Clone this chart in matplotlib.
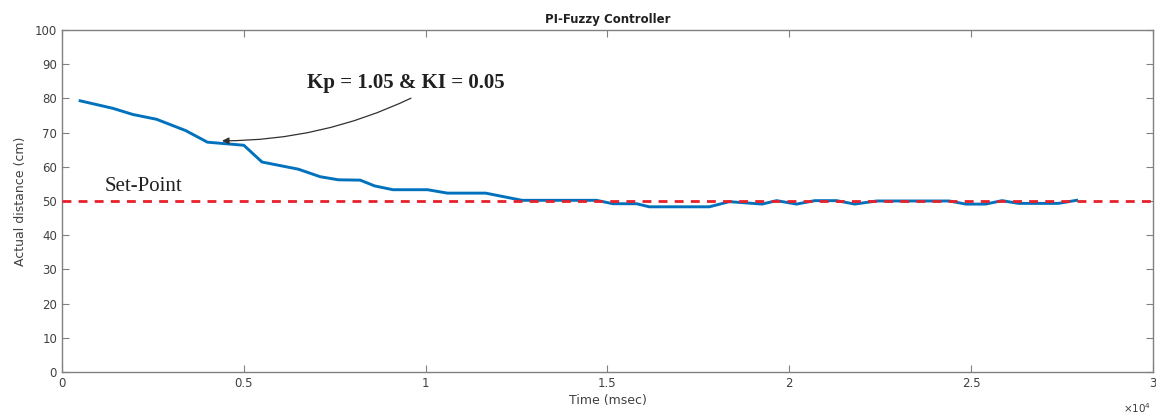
import matplotlib

matplotlib.use("Agg")
import matplotlib.pyplot as plt
from matplotlib.ticker import FuncFormatter

# response of the PI-Fuzzy controller
time_ms = [500, 1400, 1950, 2600, 3400, 4000, 5000, 5500, 6500, 7100, 7600, 8200,
           8600, 9100, 10050, 10600, 11650, 12650, 14700, 15150, 15800, 16150,
           17800, 18350, 19250, 19650, 20200, 20700, 21300, 21800, 22400, 24400,
           24850, 25400, 25850, 26300, 27400, 27900]
distance_cm = [79.3, 77.1, 75.3, 73.9, 70.6, 67.2, 66.3, 61.4, 59.3, 57.1, 56.2, 56.1,
               54.4, 53.3, 53.3, 52.3, 52.3, 50.2, 50.2, 49.2, 49.2, 48.3,
               48.3, 49.8, 49.1, 50.1, 49.1, 50.1, 50.1, 49.1, 50.0, 50.0,
               49.1, 49.1, 50.1, 49.3, 49.3, 50.2]
set_point = 50

fig = plt.figure(figsize=(11.56, 4.17), dpi=100)
ax = fig.add_axes([0.0536, 0.108, 0.9438, 0.820])

ax.plot(time_ms, distance_cm, color="#0072BD", lw=2.1, zorder=3)
ax.axhline(set_point, color="#E8202A", lw=2.0, ls=(0, (3.2, 2.6)), zorder=4)

ax.set_xlim(0, 30000)
ax.set_ylim(0, 100)
ax.set_xticks([0, 5000, 10000, 15000, 20000, 25000, 30000])
ax.set_yticks(range(0, 101, 10))
ax.xaxis.set_major_formatter(FuncFormatter(lambda v, p: f"{v / 1e4:g}"))

grey = "#404040"
for s in ax.spines.values():
    s.set_color("#808080")
    s.set_linewidth(1.0)
ax.tick_params(direction="in", length=5, width=0.8, colors="#808080",
               labelcolor=grey, labelsize=8.5, top=True, right=True)

ax.set_title("PI-Fuzzy Controller", fontsize=8.5, fontweight="bold", color="#202020", pad=5)
ax.set_xlabel("Time (msec)", fontsize=9, color=grey, labelpad=3)
fig.text(0.996, 0.005, r"$\times10^4$", ha="right", va="bottom", fontsize=7.5, color=grey)
ax.set_ylabel("Actual distance (cm)", fontsize=9, color=grey, labelpad=6)

ax.text(2250, 54.1, "Set-Point", family="Liberation Serif", fontsize=15,
        color="#202020", ha="center", va="center")

ax.annotate("Kp = 1.05 & KI = 0.05", xy=(4400, 67.6), xytext=(9450, 84.5),
            family="Liberation Serif", fontweight="bold", fontsize=15,
            ha="center", va="center", color="#202020",
            arrowprops=dict(arrowstyle="-|>", color="#303030", lw=0.9,
                            connectionstyle="arc3,rad=-0.12",
                            relpos=(0.58, 0.0), shrinkA=4, shrinkB=0,
                            mutation_scale=10))

fig.savefig("out.png", dpi=100)
